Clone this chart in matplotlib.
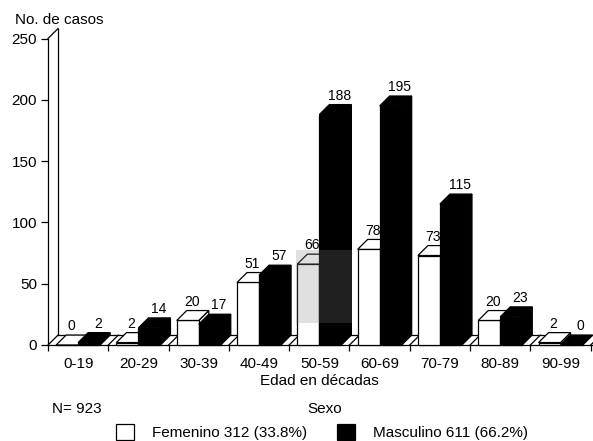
import matplotlib
matplotlib.use("Agg")
import matplotlib.pyplot as plt
from matplotlib.patches import Polygon, Rectangle

plt.rcParams['font.family'] = ['Liberation Sans', 'DejaVu Sans']

# ## Data ##
decadas = ["0-19", "20-29", "30-39", "40-49", "50-59", "60-69", "70-79", "80-89", "90-99"]
femenino = [0, 2, 20, 51, 66, 78, 73, 20, 2]
masculino = [2, 14, 17, 57, 188, 195, 115, 23, 0]
y_ticks = [0, 50, 100, 150, 200, 250]

# ## Geometry of the pseudo 3D bars ##
W = 0.365    # front width of one bar, in category units
DX = 0.166   # depth offset along x
DY = 8.1     # depth offset along y (cases)
FIG_W, FIG_H = 593, 441


def fig_xy(x, y):
    """Pixel position (from top left) to figure fraction."""
    return x / FIG_W, 1 - y / FIG_H


def bar3d(ax, x0, h, face, z):
    """Draws one box: side face, front face and top face."""
    kw = dict(facecolor=face, edgecolor="black", lw=0.9, clip_on=False, zorder=z)
    side = Polygon([(x0 + W, 0), (x0 + W + DX, DY), (x0 + W + DX, h + DY), (x0 + W, h)], **kw)
    front = Rectangle((x0, 0), W, h, **kw)
    top = Polygon([(x0, h), (x0 + W, h), (x0 + W + DX, h + DY), (x0 + DX, h + DY)], **kw)
    for p in (side, front, top):
        ax.add_patch(p)


fig = plt.figure(figsize=(FIG_W / 100, FIG_H / 100), dpi=100)
ax = fig.add_axes([48 / FIG_W, 96 / FIG_H, 545 / FIG_W, 320 / FIG_H])
ax.set_xlim(-0.5, -0.5 + 545 / 60.3)
ax.set_ylim(0, 320 / 1.226)

for side in ("top", "right"):
    ax.spines[side].set_visible(False)
ax.spines["left"].set_bounds(0, 250)
ax.spines["left"].set_linewidth(0.9)
ax.spines["bottom"].set_linewidth(0.9)

ax.set_yticks(y_ticks)
ax.tick_params(axis="y", direction="out", length=5, width=0.9, labelsize=11, pad=3)
ax.set_xticks(range(len(decadas)))
ax.set_xticklabels(decadas)
ax.set_xticks([k - 0.5 for k in range(len(decadas) + 1)], minor=True)
ax.tick_params(axis="x", which="major", length=0, labelsize=11, pad=9)
ax.tick_params(axis="x", which="minor", direction="out", length=4, width=0.9)

# floor and left wall
x_end = ax.get_xlim()[1] + 0.1
ax.plot([-0.5 + DX, x_end], [DY, DY], color="black", lw=0.9, clip_on=False, zorder=1)
for b in range(len(decadas) + 1):
    ax.plot([b - 0.5, b - 0.5 + DX], [0, DY], color="black", lw=0.9, clip_on=False, zorder=1)
ax.plot([-0.5 + DX, -0.5 + DX], [DY, 250 + DY], color="black", lw=0.9, clip_on=False, zorder=1)
ax.plot([-0.5, -0.5 + DX], [250, 250 + DY], color="black", lw=0.9, clip_on=False, zorder=1)

# bars with value labels
for i, (f, m) in enumerate(zip(femenino, masculino)):
    bar3d(ax, i - W, f, "white", 2 + 2 * i)
    bar3d(ax, i, m, "black", 3 + 2 * i)
    ax.text(i - W / 2 + DX * 0.4, f + DY + 1.5, str(f), ha="center", va="bottom", fontsize=10, zorder=30)
    ax.text(i + W / 2 + DX * 0.9, m + DY + 1.5, str(m), ha="center", va="bottom", fontsize=10, zorder=30)

# faded patch over the 50-59 group
ax.add_patch(Rectangle((3.61, 17.9), 0.93, 59.6, facecolor="white", alpha=0.15, lw=0, zorder=40))
ax.add_patch(Rectangle((3.61, 17.9), 0.93, 59.6, facecolor="black", alpha=0.12, lw=0, zorder=41))

# titles and legend
fig.text(*fig_xy(15, 20), "No. de casos", fontsize=11, ha="left", va="center")
fig.text(*fig_xy(319, 381), "Edad en décadas", fontsize=11, ha="center", va="center")
fig.text(*fig_xy(52, 409), "N= 923", fontsize=11, ha="left", va="center")
fig.text(*fig_xy(325, 409), "Sexo", fontsize=11, ha="center", va="center")

for x_box, face, label in ((116, "white", "Femenino 312 (33.8%)"),
                           (337, "black", "Masculino 611 (66.2%)")):
    bx, by = fig_xy(x_box, 440)
    fig.patches.append(Rectangle((bx, by), 18 / FIG_W, 16 / FIG_H, facecolor=face,
                                 edgecolor="black", lw=0.9, transform=fig.transFigure))
    fig.text(*fig_xy(x_box + 36, 433), label, fontsize=11, ha="left", va="center")

fig.savefig("out.png", dpi=100)
